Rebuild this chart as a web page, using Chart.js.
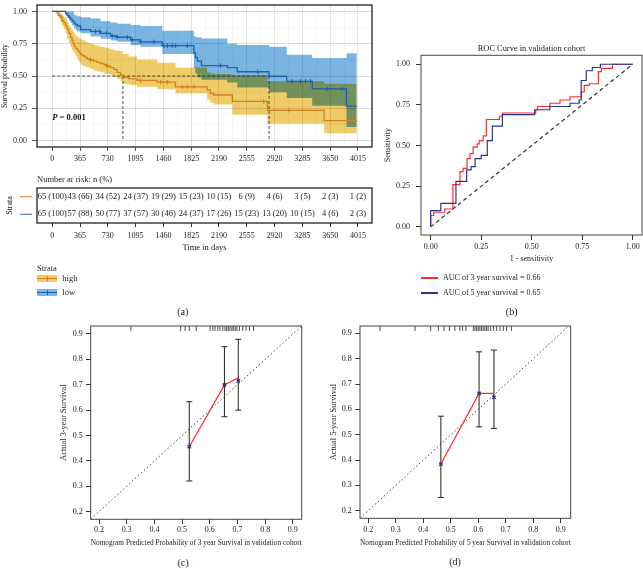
<!DOCTYPE html>
<html>
<head>
<meta charset="utf-8">
<script src="https://cdn.jsdelivr.net/npm/chart.js@4.4.1/dist/chart.umd.min.js"></script>
<style>
  html, body { margin: 0; padding: 0; background: #fff; }
  body { position: relative; width: 643px; height: 568px; overflow: hidden;
         font-family: 'Liberation Serif', 'Times New Roman', serif; color: #222; }
  canvas { position: absolute; }
  .txt { position: absolute; white-space: nowrap; line-height: 1; transform: translateY(-50%); }
  .ctr { position: absolute; white-space: nowrap; line-height: 1; transform: translate(-50%, -50%); }
</style>
</head>
<body>
<canvas id="km" width="380" height="170" style="left:0;top:0"></canvas>
<canvas id="risk" width="380" height="90" style="left:0;top:168px"></canvas>
<canvas id="roc" width="271" height="230" style="left:372px;top:40px"></canvas>
<canvas id="cal3" width="300" height="235" style="left:30px;top:318px"></canvas>
<canvas id="cal5" width="300" height="235" style="left:300px;top:318px"></canvas>
<script>
// ---------- (a) survival curves ----------
const strata = ["high", "low"];
const kmTicks = [0, 365, 730, 1095, 1460, 1825, 2190, 2555, 2920, 3285, 3650, 4015];
const survTicks = [0, 0.25, 0.5, 0.75, 1];

const highTime  = [0, 65, 85, 109, 130, 153, 175, 196, 218, 240, 260, 275, 290, 306, 330, 350, 372, 394, 430, 459, 500, 547, 590, 634, 680, 722, 765, 809, 853, 897, 929, 1006, 1116, 1378, 1619, 2035, 2078, 2122, 2366, 2826, 3571, 4000];
const highSurv  = [1, 0.985, 0.97, 0.955, 0.93, 0.913, 0.89, 0.863, 0.83, 0.80, 0.775, 0.751, 0.73, 0.714, 0.70, 0.682, 0.67, 0.657, 0.645, 0.632, 0.624, 0.615, 0.606, 0.597, 0.587, 0.577, 0.565, 0.552, 0.528, 0.508, 0.49, 0.478, 0.466, 0.453, 0.416, 0.391, 0.366, 0.353, 0.303, 0.234, 0.154, 0.154];
const highLower = [1, 0.96, 0.94, 0.915, 0.89, 0.863, 0.83, 0.789, 0.755, 0.726, 0.70, 0.69, 0.677, 0.655, 0.627, 0.61, 0.59, 0.58, 0.572, 0.565, 0.555, 0.54, 0.535, 0.53, 0.52, 0.515, 0.505, 0.495, 0.478, 0.46, 0.44, 0.43, 0.416, 0.398, 0.366, 0.316, 0.29, 0.279, 0.20, 0.13, 0.057, 0.057];
const highUpper = [1, 1, 0.995, 0.985, 0.97, 0.955, 0.94, 0.915, 0.888, 0.87, 0.855, 0.84, 0.825, 0.813, 0.80, 0.793, 0.785, 0.776, 0.766, 0.756, 0.748, 0.739, 0.732, 0.725, 0.72, 0.714, 0.708, 0.70, 0.695, 0.689, 0.67, 0.652, 0.627, 0.602, 0.565, 0.527, 0.52, 0.515, 0.505, 0.46, 0.44, 0.44];
const highCensor = [503, 722, 1160, 1424, 1512, 1709, 1775, 1862, 2778, 3107];

const lowTime  = [0, 175, 197, 219, 241, 263, 285, 307, 329, 372, 504, 635, 767, 855, 1030, 1161, 1446, 1860, 1880, 1906, 1960, 2300, 2430, 2848, 3080, 3415, 3865, 4000];
const lowSurv  = [1, 0.985, 0.97, 0.955, 0.94, 0.925, 0.91, 0.90, 0.888, 0.86, 0.845, 0.83, 0.81, 0.80, 0.78, 0.765, 0.735, 0.68, 0.645, 0.615, 0.58, 0.565, 0.533, 0.498, 0.458, 0.40, 0.266, 0.266];
const lowLower = [1, 0.97, 0.95, 0.93, 0.91, 0.89, 0.87, 0.855, 0.845, 0.831, 0.806, 0.789, 0.775, 0.765, 0.739, 0.726, 0.67, 0.56, 0.52, 0.49, 0.47, 0.45, 0.41, 0.375, 0.33, 0.27, 0.105, 0.105];
const lowUpper = [1, 1, 1, 1, 1, 1, 0.975, 0.97, 0.963, 0.955, 0.945, 0.925, 0.915, 0.905, 0.895, 0.888, 0.85, 0.81, 0.80, 0.80, 0.79, 0.75, 0.74, 0.727, 0.664, 0.64, 0.677, 0.677];
const lowCensor = [570, 620, 714, 789, 855, 986, 1052, 1161, 1337, 1466, 1512, 1575, 1621, 1775, 2213, 2699, 3151, 3261, 3327, 3392, 3611, 3808];

const medianHigh = 929;
const medianLow = 2848;
const pValue = "0.001";

const riskHigh    = [65, 43, 34, 24, 19, 15, 10, 6, 4, 3, 2, 1];
const riskHighPct = [100, 66, 52, 37, 29, 23, 15, 9, 6, 5, 3, 2];
const riskLow     = [65, 57, 50, 37, 30, 24, 17, 15, 13, 10, 4, 2];
const riskLowPct  = [100, 88, 77, 57, 46, 37, 26, 23, 20, 15, 6, 3];

// ---------- (b) ROC ----------
const rocLabels = ["AUC of 3 year survival = 0.66", "AUC of 5 year survival = 0.65"];
const rocTicks = [0, 0.25, 0.5, 0.75, 1];
const roc3Fpr = [0, 0, 0.015, 0.07, 0.11, 0.145, 0.16, 0.18, 0.195, 0.21, 0.23, 0.24, 0.26, 0.275, 0.34, 0.355, 0.52, 0.53, 0.59, 0.64, 0.69, 0.745, 0.76, 0.785, 0.83, 0.845, 0.90, 1];
const roc3Tpr = [0, 0.07, 0.09, 0.11, 0.26, 0.34, 0.36, 0.42, 0.45, 0.49, 0.51, 0.53, 0.56, 0.66, 0.68, 0.70, 0.72, 0.74, 0.76, 0.78, 0.80, 0.83, 0.87, 0.88, 0.955, 0.975, 1, 1];
const roc5Fpr = [0, 0, 0.05, 0.125, 0.178, 0.20, 0.22, 0.25, 0.28, 0.305, 0.355, 0.515, 0.59, 0.69, 0.735, 0.745, 0.77, 0.80, 0.84, 1];
const roc5Tpr = [0, 0.10, 0.145, 0.28, 0.35, 0.37, 0.42, 0.44, 0.53, 0.62, 0.69, 0.72, 0.74, 0.76, 0.78, 0.90, 0.96, 0.98, 1, 1];
const chanceLine = [0, 1];

// ---------- (c), (d) calibration ----------
const calTicks = [0.2, 0.3, 0.4, 0.5, 0.6, 0.7, 0.8, 0.9];
const cal3Pred = [0.526, 0.653, 0.703];
const cal3Obs  = [0.456, 0.699, 0.728];
const cal3Corr = [0.456, 0.699, 0.715];
const cal3Lo   = [0.321, 0.574, 0.600];
const cal3Hi   = [0.633, 0.850, 0.879];
const cal3Rug  = [0.315, 0.495, 0.511, 0.526, 0.551, 0.601, 0.611, 0.619, 0.629, 0.637, 0.647, 0.655, 0.661, 0.667, 0.673, 0.680, 0.685, 0.692, 0.698, 0.707, 0.719, 0.731, 0.743, 0.758];

const cal5Pred = [0.464, 0.603, 0.657];
const cal5Obs  = [0.384, 0.663, 0.663];
const cal5Corr = [0.384, 0.663, 0.647];
const cal5Lo   = [0.252, 0.531, 0.525];
const cal5Hi   = [0.573, 0.827, 0.834];
const cal5Rug  = [0.243, 0.370, 0.427, 0.455, 0.475, 0.495, 0.515, 0.533, 0.543, 0.555, 0.582, 0.588, 0.594, 0.600, 0.606, 0.612, 0.618, 0.624, 0.630, 0.636, 0.645, 0.655, 0.667, 0.679, 0.691, 0.703, 0.721];

// ---------- styling ----------
Chart.defaults.font.family = "'Liberation Serif', 'Times New Roman', serif";
Chart.defaults.font.size = 8;
Chart.defaults.color = "#222";

const INK = "#333";
const ORANGE = "#d4801a", BLUE = "#1f5fb0";
const YELLOW_BAND = "rgb(240,204,104)", BLUE_BAND = "rgb(122,181,226)";
const RED = "#ff2a2a", NAVY = "#27358c";

const pts = (xs, ys) => xs.map((x, i) => ({ x: x, y: ys[i] }));
const fixedTicks = vals => s => { s.ticks = vals.map(v => ({ value: v })); };
const fitBox = (w, h) => s => {
  if (w != null) s.width = w;
  if (h != null) s.height = h;
  s.paddingTop = s.paddingBottom = s.paddingLeft = s.paddingRight = 0;
};
function survAt(times, surv, t) {
  let s = surv[0];
  for (let i = 0; i < times.length; i++) if (times[i] <= t) s = surv[i];
  return s;
}

const frame = (color, width) => ({
  id: "frame",
  afterDraw(chart) {
    const a = chart.chartArea, ctx = chart.ctx;
    ctx.save();
    ctx.strokeStyle = color;
    ctx.lineWidth = width;
    ctx.strokeRect(a.left, a.top, a.right - a.left, a.bottom - a.top);
    ctx.restore();
  }
});

// bands are multiplied so the overlap turns green
const multiplyBands = {
  id: "multiplyBands",
  beforeDraw(chart) { chart.ctx.globalCompositeOperation = "multiply"; },
  beforeDatasetsDraw(chart) { chart.ctx.globalCompositeOperation = "source-over"; }
};

const pText = {
  id: "pText",
  afterDatasetsDraw(chart) {
    const { ctx, scales: { x, y } } = chart;
    ctx.save();
    ctx.fillStyle = "#111";
    ctx.textBaseline = "middle";
    let px = x.getPixelForValue(0), py = y.getPixelForValue(0.18);
    ctx.font = "italic bold 8.5px 'Liberation Serif'";
    ctx.fillText("P", px, py);
    px += ctx.measureText("P").width;
    ctx.font = "bold 8.5px 'Liberation Serif'";
    ctx.fillText(" = " + pValue, px, py);
    ctx.restore();
  }
};

function kmSets(time, surv, lower, upper, censor, color, band, name) {
  return [
    { label: name, data: pts(time, surv), showLine: true, stepped: "before",
      borderColor: color, borderWidth: 1.3, pointRadius: 0, fill: false, order: 0 },
    { label: name + " censor", data: censor.map(t => ({ x: t, y: survAt(time, surv, t) })),
      showLine: false, pointStyle: "cross", pointRadius: 2.3, borderColor: color, borderWidth: 1, order: 0 },
    { label: name + " upper", data: pts(time, upper), showLine: true, stepped: "before",
      borderColor: "rgba(0,0,0,0)", borderWidth: 0, pointRadius: 0, fill: "+1", backgroundColor: band, order: 2 },
    { label: name + " lower", data: pts(time, lower), showLine: true, stepped: "before",
      borderColor: "rgba(0,0,0,0)", borderWidth: 0, pointRadius: 0, fill: false, order: 2 }
  ];
}
const medianLine = (xs, ys) => ({ data: pts(xs, ys), showLine: true, borderColor: "#222",
  borderWidth: 0.8, borderDash: [3, 2], pointRadius: 0, order: 1 });

const kmMinorX = kmTicks.slice(0, -1).map((t, i) => (t + kmTicks[i + 1]) / 2);
const kmMinorY = survTicks.slice(0, -1).map((t, i) => (t + survTicks[i + 1]) / 2);
const majX = v => kmTicks.includes(v), majY = v => survTicks.includes(v);

new Chart(document.getElementById("km"), {
  type: "scatter",
  data: { datasets: [
    ...kmSets(lowTime, lowSurv, lowLower, lowUpper, lowCensor, BLUE, BLUE_BAND, "low"),
    ...kmSets(highTime, highSurv, highLower, highUpper, highCensor, ORANGE, YELLOW_BAND, "high"),
    medianLine([0, medianLow], [0.5, 0.5]),
    medianLine([medianHigh, medianHigh], [0.5, 0]),
    medianLine([medianLow, medianLow], [0.5, 0])
  ]},
  options: {
    responsive: false, animation: false,
    layout: { padding: { left: 0, right: 8, top: 1, bottom: 0 } },
    plugins: { legend: { display: false }, tooltip: { enabled: false },
               filler: { drawTime: "beforeDatasetsDraw" } },
    scales: {
      x: { type: "linear", min: -200, max: 4200,
           afterBuildTicks: fixedTicks(kmTicks.concat(kmMinorX)), afterFit: fitBox(null, 23),
           ticks: { padding: 3.2, autoSkip: false, maxRotation: 0, callback: v => majX(v) ? String(v) : "" },
           grid: { color: c => majX(c.tick && c.tick.value) ? "#dedede" : "#efefef",
                   lineWidth: c => majX(c.tick && c.tick.value) ? 0.8 : 0.5,
                   tickColor: c => majX(c.tick && c.tick.value) ? INK : "rgba(0,0,0,0)", tickLength: 4 },
           border: { display: false } },
      y: { type: "linear", min: -0.05, max: 1.05,
           afterBuildTicks: fixedTicks(survTicks.concat(kmMinorY)), afterFit: fitBox(37, null),
           ticks: { padding: 5, autoSkip: false, callback: v => majY(v) ? v.toFixed(2) : "" },
           grid: { color: c => majY(c.tick && c.tick.value) ? "#dedede" : "#efefef",
                   lineWidth: c => majY(c.tick && c.tick.value) ? 0.8 : 0.5,
                   tickColor: c => majY(c.tick && c.tick.value) ? INK : "rgba(0,0,0,0)", tickLength: 5 },
           border: { display: false },
           title: { display: true, text: "Survival probability", padding: { top: 0.2, bottom: 0 } } }
    }
  },
  plugins: [multiplyBands, pText, frame("#222", 1.3)]
});

// ---------- risk table ----------
const riskCounts = [riskHigh, riskLow], riskPcts = [riskHighPct, riskLowPct];
const riskText = {
  id: "riskText",
  afterDatasetsDraw(chart) {
    const ctx = chart.ctx, a = chart.chartArea;
    ctx.save();
    ctx.font = "8.5px 'Liberation Serif'";
    ctx.fillStyle = "#222";
    ctx.textAlign = "center";
    ctx.textBaseline = "middle";
    chart.data.datasets.forEach((ds, k) => {
      const meta = chart.getDatasetMeta(k);
      meta.data.forEach((p, i) => ctx.fillText(ds.riskText[i], p.x, p.y));
      const y = meta.data[0].y;
      ctx.strokeStyle = ds.lineColor;
      ctx.lineWidth = 1;
      ctx.beginPath();
      ctx.moveTo(a.left - 17, y);
      ctx.lineTo(a.left - 5, y);
      ctx.stroke();
    });
    ctx.restore();
  }
};

new Chart(document.getElementById("risk"), {
  type: "scatter",
  data: { datasets: strata.map((s, k) => ({
    label: s, data: kmTicks.map(t => ({ x: t, y: s })), pointRadius: 0, showLine: false,
    riskText: riskCounts[k].map((n, i) => n + " (" + riskPcts[k][i] + ")"),
    lineColor: [ORANGE, BLUE][k]
  })) },
  options: {
    responsive: false, animation: false,
    layout: { padding: { left: 0, right: 8, top: 20, bottom: 0 } },
    plugins: { legend: { display: false }, tooltip: { enabled: false } },
    scales: {
      x: { type: "linear", min: -200, max: 4200,
           afterBuildTicks: fixedTicks(kmTicks), afterFit: fitBox(null, 35),
           ticks: { padding: 4.2, autoSkip: false, maxRotation: 0, callback: v => String(v) },
           grid: { drawOnChartArea: false, tickLength: 4, tickColor: INK },
           border: { display: false },
           title: { display: true, text: "Time in days", font: { size: 8.5 }, padding: { top: 0, bottom: 4.9 } } },
      y: { type: "category", labels: strata, offset: true, afterFit: fitBox(37, null),
           ticks: { display: false }, grid: { display: false }, border: { display: false },
           title: { display: true, text: "Strata", padding: { top: 5.2, bottom: 0 } } }
    }
  },
  plugins: [riskText, frame("#222", 1.3)]
});

// ---------- (b) ROC ----------
const rocChart = new Chart(document.getElementById("roc"), {
  type: "scatter",
  data: { datasets: [
    { label: rocLabels[1], data: pts(roc5Fpr, roc5Tpr), showLine: true, stepped: "before",
      borderColor: NAVY, borderWidth: 1.2, pointRadius: 0, order: 0 },
    { label: rocLabels[0], data: pts(roc3Fpr, roc3Tpr), showLine: true, stepped: "before",
      borderColor: RED, borderWidth: 1.2, pointRadius: 0, order: 1 },
    { label: "chance", data: pts(chanceLine, chanceLine), showLine: true,
      borderColor: "#333", borderDash: [4, 3], borderWidth: 1.2, pointRadius: 0, order: 2 }
  ]},
  options: {
    responsive: false, animation: false,
    layout: { padding: { left: 0, right: 1, top: 0, bottom: 0 } },
    plugins: {
      legend: { display: false }, tooltip: { enabled: false },
      title: { display: true, text: "ROC Curve in validation cohort", fullSize: false, color: "#222",
               font: { size: 8.4, weight: "normal" }, padding: { top: 4, bottom: 1.2 } }
    },
    scales: {
      x: { type: "linear", min: -0.048, max: 1.046,
           afterBuildTicks: fixedTicks(rocTicks), afterFit: fitBox(null, 35),
           ticks: { padding: 2.2, autoSkip: false, maxRotation: 0, callback: v => v.toFixed(2) },
           grid: { drawOnChartArea: false, tickLength: 5, tickColor: INK },
           border: { display: false },
           title: { display: true, text: "1 - sensitivity", padding: { top: 0, bottom: 6.2 } } },
      y: { type: "linear", min: -0.05, max: 1.055,
           afterBuildTicks: fixedTicks(rocTicks), afterFit: fitBox(49, null),
           ticks: { padding: 6, autoSkip: false, callback: v => v.toFixed(2) },
           grid: { drawOnChartArea: false, tickLength: 5, tickColor: INK },
           border: { display: false },
           title: { display: true, text: "Sensitivity", padding: { top: 11.2, bottom: 0 } } }
    }
  },
  plugins: [frame("#444", 1)]
});

// ---------- (c), (d) calibration ----------
const rug = values => ({
  id: "rug",
  afterDatasetsDraw(chart) {
    const { ctx, chartArea: a, scales: { x } } = chart;
    ctx.save();
    ctx.strokeStyle = "#222";
    ctx.lineWidth = 0.8;
    ctx.beginPath();
    values.forEach(v => { const px = x.getPixelForValue(v); ctx.moveTo(px, a.top); ctx.lineTo(px, a.top + 5); });
    ctx.stroke();
    ctx.restore();
  }
});

function calChart(id, pred, obs, corr, lo, hi, rugVals, yTitle, xTitle, box) {
  const bars = pred.map((p, i) => ({
    data: [{ x: p, y: lo[i] }, { x: p, y: hi[i] }], showLine: true, borderColor: "#222", borderWidth: 1,
    pointStyle: "line", pointRadius: 3, pointBorderColor: "#222", pointBorderWidth: 1, order: 2
  }));
  new Chart(document.getElementById(id), {
    type: "scatter",
    data: { datasets: [
      { data: pts(pred, corr), showLine: false, pointStyle: "crossRot", pointRadius: 2.3,
        borderColor: NAVY, borderWidth: 1.5, order: 0 },
      { data: pts(pred, obs), showLine: true, borderColor: RED, borderWidth: 1.2, pointRadius: 0, order: 1 },
      ...bars,
      { data: pts(chanceLine, chanceLine), showLine: true, borderColor: "#444", borderDash: [1.5, 2.5],
        borderWidth: 1, pointRadius: 0, order: 3 }
    ]},
    options: {
      responsive: false, animation: false,
      layout: { padding: { left: 0, right: box.right, top: 8, bottom: 0 } },
      plugins: { legend: { display: false }, tooltip: { enabled: false } },
      scales: {
        x: { type: "linear", min: 0.17, max: box.xMax,
             afterBuildTicks: fixedTicks(calTicks), afterFit: fitBox(null, box.xh),
             ticks: { padding: box.xpad, autoSkip: false, maxRotation: 0, callback: v => v.toFixed(1) },
             grid: { drawOnChartArea: false, tickLength: 4.7, tickColor: INK },
             border: { display: false },
             title: { display: true, text: xTitle, font: { size: 8.8 }, padding: { top: 0, bottom: 4.6 } } },
        y: { type: "linear", min: 0.17, max: box.yMax,
             afterBuildTicks: fixedTicks(calTicks), afterFit: fitBox(box.yw, null),
             ticks: { padding: box.ypad, autoSkip: false, callback: v => v.toFixed(1) },
             grid: { drawOnChartArea: false, tickLength: 4.7, tickColor: INK },
             border: { display: false },
             title: { display: true, text: yTitle, font: { size: 8.4 }, padding: { top: 28.3, bottom: 0 } } }
      }
    },
    plugins: [rug(rugVals), frame("#444", 1)]
  });
}

calChart("cal3", cal3Pred, cal3Obs, cal3Corr, cal3Lo, cal3Hi, cal3Rug,
  "Actual 3-year Survival", "Nomogram Predicted Probability of 3 year Survival in validation cohort",
  { right: 28.3, xMax: 0.932, yMax: 0.9315, xh: 33.7, yw: 60.7, xpad: 1.2, ypad: 3.3 });
calChart("cal5", cal5Pred, cal5Obs, cal5Corr, cal5Lo, cal5Hi, cal5Rug,
  "Actual 5-year Survival", "Nomogram Predicted Probability of 5 year Survival in validation cohort",
  { right: 29.3, xMax: 0.936, yMax: 0.929, xh: 34.7, yw: 60, xpad: 2.2, ypad: 3.6 });

// ---------- html text: headings, legends, panel letters ----------
function addText(text, left, midY, size, cls) {
  const d = document.createElement("div");
  d.className = cls || "txt";
  d.textContent = text;
  d.style.left = left + "px";
  d.style.top = midY + "px";
  d.style.fontSize = size + "px";
  document.body.appendChild(d);
  return d;
}
function addBox(left, top, w, h, bg) {
  const d = document.createElement("div");
  Object.assign(d.style, { position: "absolute", left: left + "px", top: top + "px",
    width: w + "px", height: h + "px", background: bg });
  document.body.appendChild(d);
  return d;
}

addText("Number ar risk: n (%)", 37, 179, 8.5);

addText("Strata", 37, 268.3, 8.5);
strata.forEach((s, k) => {
  const y = 278.3 + k * 14;
  const line = [ORANGE, BLUE][k], band = [YELLOW_BAND, BLUE_BAND][k];
  addBox(37, y - 3.5, 20, 7, band);
  addBox(37, y - 0.6, 20, 1.3, line);
  addBox(46.5, y - 2.5, 1, 5, line);
  addText(s, 62.3, y, 8.5);
});

// ROC legend in the order of the reference (3 year first)
[1, 0].forEach((di, row) => {
  const ds = rocChart.data.datasets[di];
  const y = 278 + row * 15;
  addBox(421, y - 0.6, 17, 1.3, ds.borderColor);
  addText(ds.label, 443, y, 8);
});

addText("(a)", 182.7, 311.7, 10, "ctr");
addText("(b)", 511.7, 311.7, 10, "ctr");
addText("(c)", 183, 563, 10, "ctr");
addText("(d)", 455, 562, 10, "ctr");
</script>
</body>
</html>
